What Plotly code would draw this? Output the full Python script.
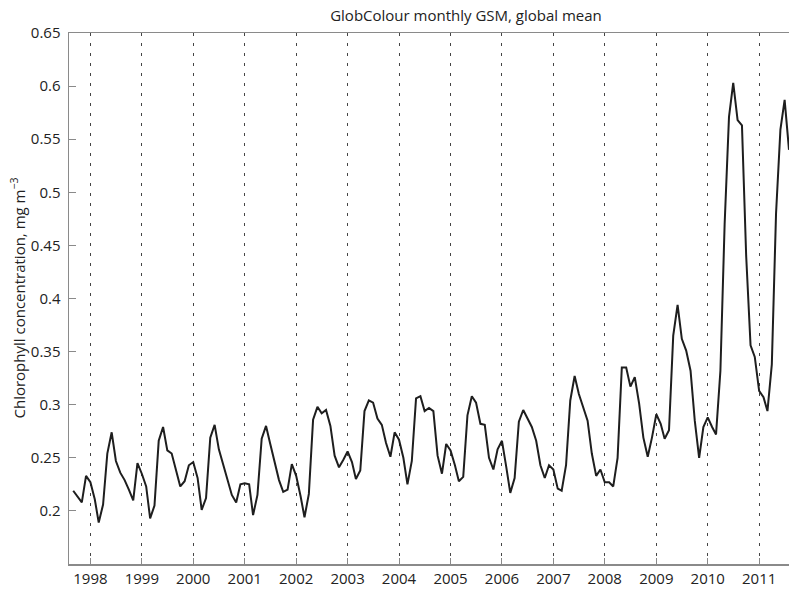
import pandas as pd
import plotly.graph_objects as go

start_month = "1997-09-01"
chl = [
    # 1997 Sep-Dec
    0.219, 0.213, 0.208, 0.233,
    # 1998
    0.227, 0.211, 0.189, 0.206, 0.254, 0.274, 0.247, 0.236, 0.229, 0.220, 0.210, 0.245,
    # 1999
    0.235, 0.223, 0.193, 0.205, 0.266, 0.279, 0.257, 0.254, 0.239, 0.223, 0.228, 0.243,
    # 2000
    0.246, 0.231, 0.201, 0.212, 0.269, 0.281, 0.258, 0.244, 0.230, 0.215, 0.208, 0.225,
    # 2001
    0.226, 0.225, 0.196, 0.215, 0.268, 0.280, 0.263, 0.246, 0.229, 0.218, 0.220, 0.244,
    # 2002
    0.233, 0.214, 0.194, 0.216, 0.286, 0.298, 0.292, 0.295, 0.280, 0.252, 0.241, 0.248,
    # 2003
    0.256, 0.246, 0.230, 0.238, 0.294, 0.304, 0.302, 0.287, 0.281, 0.264, 0.251, 0.274,
    # 2004
    0.267, 0.250, 0.225, 0.247, 0.306, 0.308, 0.294, 0.297, 0.294, 0.252, 0.235, 0.263,
    # 2005
    0.257, 0.243, 0.228, 0.232, 0.290, 0.308, 0.302, 0.282, 0.281, 0.250, 0.239, 0.258,
    # 2006
    0.266, 0.241, 0.217, 0.231, 0.284, 0.295, 0.287, 0.279, 0.266, 0.243, 0.231, 0.243,
    # 2007
    0.239, 0.221, 0.219, 0.243, 0.304, 0.327, 0.310, 0.298, 0.285, 0.254, 0.233, 0.239,
    # 2008
    0.227, 0.227, 0.223, 0.250, 0.335, 0.335, 0.317, 0.326, 0.301, 0.269, 0.251, 0.269,
    # 2009
    0.291, 0.282, 0.268, 0.276, 0.365, 0.394, 0.362, 0.351, 0.332, 0.285, 0.250, 0.279,
    # 2010
    0.288, 0.279, 0.272, 0.332, 0.470, 0.571, 0.603, 0.568, 0.563, 0.440, 0.356, 0.345,
    # 2011 Jan-Aug
    0.313, 0.307, 0.294, 0.338, 0.480, 0.559, 0.587, 0.540,
]
months = pd.date_range(start_month, periods=len(chl), freq="MS")

year_ticks = [f"{y}-01-01" for y in range(1998, 2012)]
year_labels = [str(y) for y in range(1998, 2012)]
y_ticks = [0.2, 0.25, 0.3, 0.35, 0.4, 0.45, 0.5, 0.55, 0.6, 0.65]

FONT = "Open Sans, Noto Sans, sans-serif"

fig = go.Figure()
fig.add_trace(go.Scatter(
    x=months, y=chl, mode="lines",
    line=dict(color="#1e1e1e", width=2),
    showlegend=False,
))

axis_font = dict(family=FONT, size=15, color="#222222")

fig.update_layout(
    width=789, height=590,
    margin=dict(l=69, r=0, t=33, b=26, autoexpand=False),
    paper_bgcolor="white", plot_bgcolor="white",
    title=dict(text="GlobColour monthly GSM, global mean",
               x=(466 - 69) / 720, xref="paper", xanchor="center",
               y=0.974, yanchor="middle",
               font=dict(family=FONT, size=15, color="#222222")),
    xaxis=dict(
        range=["1997-08-02", "2011-08-01"],
        tickvals=year_ticks, ticktext=year_labels,
        showgrid=True, gridcolor="#444444", gridwidth=1, griddash="3px,7px",
        showline=True, linecolor="#8a8a8a", linewidth=1.5, mirror=True,
        ticks="inside", ticklen=6, tickcolor="#8a8a8a",
        tickfont=axis_font, zeroline=False, automargin=False,
    ),
    yaxis=dict(
        range=[0.15, 0.65],
        tickvals=y_ticks,
        showgrid=False,
        showline=True, linecolor="#8a8a8a", linewidth=1.5,
        ticks="inside", ticklen=7, tickcolor="#8a8a8a",
        tickfont=axis_font, zeroline=False, ticklabelstandoff=4,
        automargin=False,
    ),
    annotations=[dict(
        text="Chlorophyll concentration, mg m<sup>−3</sup>",
        xref="paper", yref="paper", x=(18 - 69) / 720, y=0.5,
        xanchor="center", yanchor="middle", textangle=-90, showarrow=False,
        font=dict(family=FONT, size=15, color="#222222"),
    )],
)

fig.write_html(
    "out.html",
    config={"displayModeBar": False, "staticPlot": True},
    post_script="document.body.style.margin='0';document.body.style.overflow='hidden';",
)
